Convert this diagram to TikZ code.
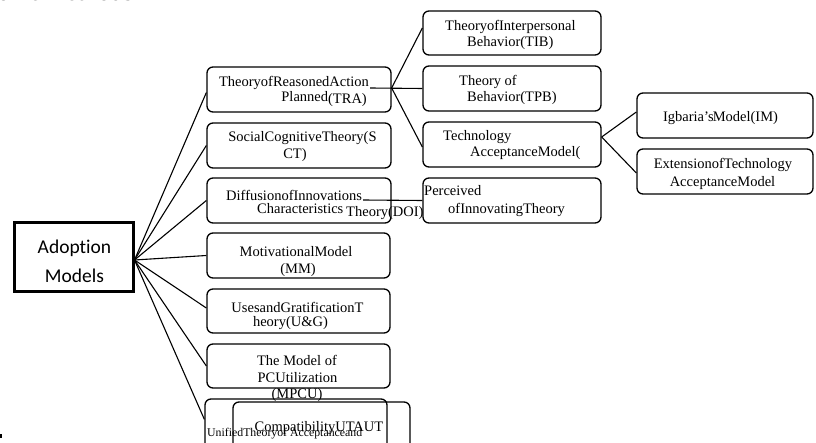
\documentclass[tikz,border=0pt]{standalone}
\usepackage{fontspec}
\setmainfont{Liberation Serif}
\newfontfamily\boxsans[Ligatures=NoCommon]{Carlito}
\begin{document}
\begin{tikzpicture}[x=1pt,y=-1pt,
  box/.style={draw, line width=1.3pt, rounded corners=6pt, inner sep=0pt},
  rootbox/.style={draw, line width=3pt, inner sep=0pt},
  txt/.style={inner sep=0pt, font=\fontsize{14.5}{17}\selectfont},
  smalltxt/.style={inner sep=0pt, font=\fontsize{11.8}{13}\selectfont},
  link/.style={line width=1.1pt}]
\useasboundingbox (0,0) rectangle (816,443);
\clip (0,0) rectangle (816,443);
\fill[white] (0,0) rectangle (816,443);
% cut-off caption text at the top
\node[anchor=base west, inner sep=0pt, font=\fontsize{24}{26}\selectfont\bfseries] (cap) at (-12,1) {some methods};
% boxes
\node[rootbox, minimum width=119pt, minimum height=69pt] (adopt) at (73.5,257.5) {};
\node[box, minimum width=184pt, minimum height=45pt] (tra) at (299,89.5) {};
\node[box, minimum width=184pt, minimum height=45pt] (sct) at (299,145.5) {};
\node[box, minimum width=184pt, minimum height=45pt] (doi) at (299,200.5) {};
\node[box, minimum width=183pt, minimum height=45pt] (mm) at (298.5,255.5) {};
\node[box, minimum width=183pt, minimum height=44pt] (ug) at (298.5,311) {};
\node[box, minimum width=183pt, minimum height=44pt] (mpcu) at (298.5,366) {};
\node[box, minimum width=182pt, minimum height=71pt] (utaut) at (296,434.5) {};
\node[box, minimum width=177pt, minimum height=68pt] (compat) at (321.5,436) {};
\node[box, minimum width=178pt, minimum height=44pt] (tib) at (512,33) {};
\node[box, minimum width=178pt, minimum height=45pt] (tpb) at (512,88.5) {};
\node[box, minimum width=178pt, minimum height=45pt] (tam) at (512,144.5) {};
\node[box, minimum width=178pt, minimum height=45pt] (pdoi) at (512,200.5) {};
\node[box, minimum width=176pt, minimum height=45pt] (im) at (725,115.5) {};
\node[box, minimum width=176pt, minimum height=45pt] (etam) at (725,171.5) {};
% texts
\node[inner sep=0pt, font=\boxsans\fontsize{19.5}{23}\selectfont] (t-ad1) at (74.5,248) {Adoption};
\node[inner sep=0pt, font=\boxsans\fontsize{19.5}{23}\selectfont] (t-ad2) at (74.5,276) {Models};
\node[txt] (t-tra1) at (294,83) {TheoryofReasonedAction};
\node[txt, anchor=east] (t-tra2) at (367,99) {Planned\raisebox{-2pt}{(TRA)}};
\node[txt] (t-sct1) at (302.5,138) {SocialCognitiveTheory(S};
\node[txt] (t-sct2) at (295,155) {CT)};
\node[txt, anchor=west] (t-doi1) at (226,195) {DiffusionofInnovations};
\node[txt, anchor=west] (t-doi2) at (257,209) {Characteristics};
\node[txt, anchor=west] (t-doi3) at (346,213) {Theory(DOI)};
\node[txt, anchor=west] (t-pd1) at (424,191) {Perceived};
\node[txt, anchor=west] (t-pd2) at (448,210) {ofInnovatingTheory};
\node[txt, anchor=west] (t-tam1) at (443,137) {Technology};
\node[txt, anchor=west] (t-tam2) at (470,153) {AcceptanceModel(};
\node[txt, anchor=west] (t-tib1) at (445,27) {TheoryofInterpersonal};
\node[txt, anchor=west] (t-tib2) at (467,43) {Behavior(TIB)};
\node[txt, anchor=west] (t-tpb1) at (459,82) {Theory of};
\node[txt, anchor=west] (t-tpb2) at (467,98) {Behavior(TPB)};
\node[txt] (t-im) at (720.5,118) {Igbaria's\kern-1ptModel(IM)};
\node[txt] (t-et1) at (723,165) {ExtensionofTechnology};
\node[txt] (t-et2) at (722.5,183) {AcceptanceModel};
\node[txt] (t-mm1) at (296,252) {MotivationalModel};
\node[txt] (t-mm2) at (298,270) {(MM)};
\node[txt] (t-ug1) at (297.5,307) {UsesandGratificationT};
\node[txt] (t-ug2) at (290.5,323) {heory(U\&G)};
\node[txt] (t-mp1) at (297,360) {The Model of};
\node[txt] (t-mp2) at (297.5,378) {PCUtilization};
\node[txt] (t-mp3) at (297,395) {(MPCU)};
\node[txt] (t-cmp) at (319,428) {CompatibilityUTAUT};
\node[smalltxt, anchor=west] (t-ut) at (207,434) {UnifiedTheoryof Acceptanceand};
% connectors
\coordinate (root) at ([yshift=-2.5pt]adopt.east);
\coordinate (traend) at (370,88);
\coordinate (doiend) at (363,200);
\draw[link] (root) -- ([yshift=-3pt]tra.west);
\draw[link] (root) -- (sct.west);
\draw[link] (root) -- (doi.west);
\draw[link] (root) -- (mm.west);
\draw[link] (root) -- ([yshift=3pt]ug.west);
\draw[link] (root) -- (mpcu.west);
\draw[link] (root) -- ([yshift=-21pt]utaut.north west);
\draw[link] ([yshift=1.5pt]tra.east) -- ([yshift=5pt]tib.west);
\draw[link] (traend) -- (tpb.west);
\draw[link] ([yshift=1.5pt]tra.east) -- ([yshift=-2.5pt]tam.west);
\draw[link] ([yshift=7.5pt]tam.east) -- ([yshift=3.5pt]im.west);
\draw[link] ([yshift=7.5pt]tam.east) -- ([yshift=-1.5pt]etam.west);
\draw[link] (doiend) -- (pdoi.west);
% stray mark at lower left
\fill (0,434) rectangle (2,438);
\end{tikzpicture}
\end{document}
